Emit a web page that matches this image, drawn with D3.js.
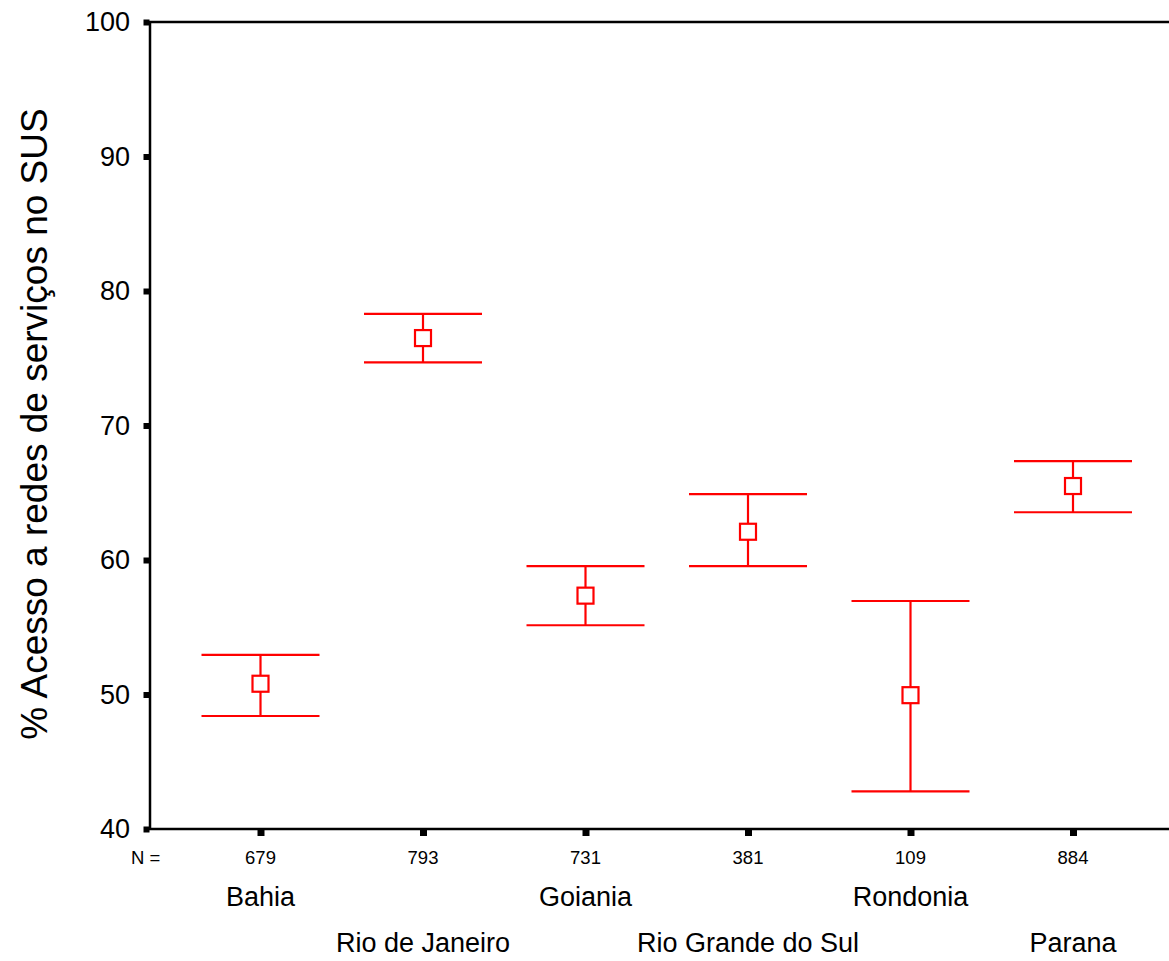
<!DOCTYPE html>
<html>
<head>
<meta charset="utf-8">
<script src="https://cdn.jsdelivr.net/npm/d3@7"></script>
<style>
body { margin: 0; background: #fff; }
text { font-family: "Liberation Sans", Arial, sans-serif; fill: #000; }
</style>
</head>
<body>
<svg width="1169" height="961"></svg>
<script>
var categories = ["Bahia", "Rio de Janeiro", "Goiania", "Rio Grande do Sul", "Rondonia", "Parana"];
var counts = [679, 793, 731, 381, 109, 884];
var means = [50.8, 76.5, 57.35, 62.1, 49.95, 65.5];
var upper = [52.95, 78.3, 59.55, 64.9, 56.95, 67.35];
var lower = [48.4, 74.7, 55.15, 59.55, 42.8, 63.55];
var yTicks = [40, 50, 60, 70, 80, 90, 100];

var svg = d3.select("svg"),
    width = +svg.attr("width"),
    height = +svg.attr("height");

var plotLeft = 150, plotTop = 22, plotBottom = 829, plotRight = 1183.5;

var x = d3.scalePoint().domain(categories).range([plotLeft, plotRight]).padding(0.68);
var y = d3.scaleLinear().domain([40, 100]).range([plotBottom, plotTop]);

// frame (right side runs off the picture)
svg.append("rect")
    .attr("x", plotLeft).attr("y", plotTop)
    .attr("width", width + 40 - plotLeft).attr("height", plotBottom - plotTop)
    .style("fill", "none").style("stroke", "#000").style("stroke-width", 2.5);

// y axis, square ticks
var yAxis = svg.append("g")
    .attr("transform", "translate(" + plotLeft + ",0)")
    .call(d3.axisLeft(y).tickValues(yTicks).tickSize(6).tickSizeOuter(0).tickPadding(14));
yAxis.select(".domain").remove();
yAxis.selectAll(".tick line").style("stroke", "#000").style("stroke-width", 6).attr("x1", -0.5).attr("x2", -6.5);
yAxis.selectAll(".tick text").style("font-size", "27px").style("font-family", "Liberation Sans, Arial, sans-serif");

// x axis ticks
var xAxis = svg.append("g")
    .attr("transform", "translate(0," + plotBottom + ")")
    .call(d3.axisBottom(x).tickSize(7).tickSizeOuter(0).tickFormat(""));
xAxis.select(".domain").remove();
xAxis.selectAll(".tick line").style("stroke", "#000").style("stroke-width", 7).attr("y1", 1);

// N labels
svg.append("text").attr("x", 131).attr("y", 864).text("N =").style("font-size", "18.5px");
svg.selectAll(".nlab").data(categories).enter().append("text")
    .attr("class", "nlab")
    .attr("x", function(d) { return x(d); })
    .attr("y", 864)
    .attr("text-anchor", "middle")
    .style("font-size", "18.5px")
    .text(function(d, i) { return counts[i]; });

// category labels, staggered
svg.selectAll(".clab").data(categories).enter().append("text")
    .attr("class", "clab")
    .attr("x", function(d) { return x(d); })
    .attr("y", function(d, i) { return i % 2 == 0 ? 906 : 952; })
    .attr("text-anchor", "middle")
    .style("font-size", "27px")
    .text(function(d) { return d; });

// y title
svg.append("text")
    .attr("transform", "translate(47," + 424 + ") rotate(-90)")
    .attr("text-anchor", "middle")
    .style("font-size", "37px")
    .text("% Acesso a redes de serviços no SUS");

// error bars
var cap = 59;
var bars = svg.selectAll(".bar").data(categories).enter().append("g").attr("class", "bar");
bars.append("line")
    .attr("x1", function(d) { return x(d); }).attr("x2", function(d) { return x(d); })
    .attr("y1", function(d, i) { return y(upper[i]); })
    .attr("y2", function(d, i) { return y(lower[i]); });
bars.append("line")
    .attr("x1", function(d) { return x(d) - cap; }).attr("x2", function(d) { return x(d) + cap; })
    .attr("y1", function(d, i) { return y(upper[i]); })
    .attr("y2", function(d, i) { return y(upper[i]); });
bars.append("line")
    .attr("x1", function(d) { return x(d) - cap; }).attr("x2", function(d) { return x(d) + cap; })
    .attr("y1", function(d, i) { return y(lower[i]); })
    .attr("y2", function(d, i) { return y(lower[i]); });
bars.selectAll("line").style("stroke", "#ff0000").style("stroke-width", 2.2);
bars.append("rect")
    .attr("x", function(d) { return x(d) - 8; })
    .attr("y", function(d, i) { return y(means[i]) - 8; })
    .attr("width", 16).attr("height", 16)
    .style("fill", "#fff").style("stroke", "#ff0000").style("stroke-width", 2.2);
</script>
</body>
</html>
